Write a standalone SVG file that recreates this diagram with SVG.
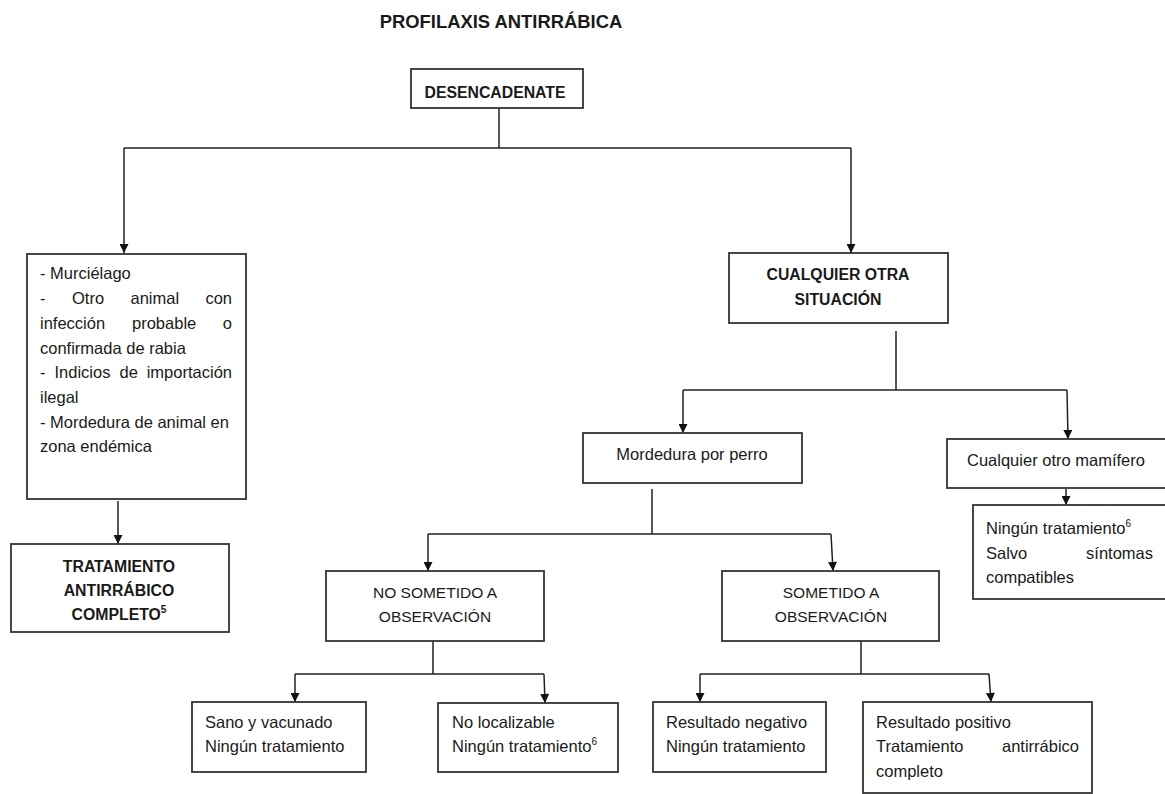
<svg xmlns="http://www.w3.org/2000/svg" width="1165" height="794" viewBox="0 0 1165 794">
<style>
  .box { fill: #ffffff; stroke: #333333; stroke-width: 1.8; }
  .ln { fill: none; stroke: #222222; stroke-width: 1.5; }
  .t { font-family: "Liberation Sans", Arial, sans-serif; font-size: 16.5px; fill: #1a1a1a; }
  .u { font-family: "Liberation Sans", Arial, sans-serif; font-size: 15.5px; fill: #1a1a1a; }
  .b { font-family: "Liberation Sans", Arial, sans-serif; font-size: 15.8px; font-weight: bold; fill: #1a1a1a; }
  .title { font-family: "Liberation Sans", Arial, sans-serif; font-size: 18.4px; font-weight: bold; fill: #1a1a1a; }
  .sup { font-size: 10px; }
  .m { text-anchor: middle; }
  .e { text-anchor: end; }
</style>
<defs>
  <marker id="arr" viewBox="0 0 10 10" refX="10" refY="5" markerWidth="10" markerHeight="9" markerUnits="userSpaceOnUse" orient="auto">
    <path d="M0,0 L10,5 L0,10 z" fill="#111111"/>
  </marker>
</defs>
<rect width="1165" height="794" fill="#ffffff"/>

<text class="title m" x="501" y="28">PROFILAXIS ANTIRRÁBICA</text>

<g id="connectors">
  <path class="ln" d="M499,108 V148 M124,148 H851"/>
  <path class="ln" d="M124,148 V253" marker-end="url(#arr)"/>
  <path class="ln" d="M851,148 V253" marker-end="url(#arr)"/>
  <path class="ln" d="M118,501 V544" marker-end="url(#arr)"/>
  <path class="ln" d="M896,331 V390 M683,390 H1067"/>
  <path class="ln" d="M683,390 V433" marker-end="url(#arr)"/>
  <path class="ln" d="M1067,390 L1068,439" marker-end="url(#arr)"/>
  <path class="ln" d="M1066,489 V505" marker-end="url(#arr)"/>
  <path class="ln" d="M652,489 V534 M428,534 H831"/>
  <path class="ln" d="M428,534 V571" marker-end="url(#arr)"/>
  <path class="ln" d="M831,534 L833,571" marker-end="url(#arr)"/>
  <path class="ln" d="M433,641 V674 M295,674 H544"/>
  <path class="ln" d="M295,674 V702" marker-end="url(#arr)"/>
  <path class="ln" d="M544,674 L545,703" marker-end="url(#arr)"/>
  <path class="ln" d="M861,641 V674 M700,674 H989"/>
  <path class="ln" d="M700,674 V702" marker-end="url(#arr)"/>
  <path class="ln" d="M989,674 L991,702" marker-end="url(#arr)"/>
</g>

<g id="desencadenante">
  <rect class="box" x="411" y="69" width="172" height="39"/>
  <text class="b m" x="495" y="98">DESENCADENATE</text>
</g>

<g id="murcielago">
  <rect class="box" x="27" y="254" width="219" height="245"/>
  <text class="t" x="40" y="279">- Murciélago</text>
  <text class="t" y="304"><tspan x="40">-</tspan><tspan x="72">Otro</tspan><tspan x="130.5">animal</tspan><tspan x="232" text-anchor="end">con</tspan></text>
  <text class="t" y="329"><tspan x="40">infección</tspan><tspan x="132">probable</tspan><tspan x="232" text-anchor="end">o</tspan></text>
  <text class="t" x="40" y="354">confirmada de rabia</text>
  <text class="t" y="378"><tspan x="40">-</tspan><tspan x="54.5">Indicios</tspan><tspan x="119.5">de</tspan><tspan x="232" text-anchor="end">importación</tspan></text>
  <text class="t" x="40" y="403">ilegal</text>
  <text class="t" x="40" y="428">- Mordedura de animal en</text>
  <text class="t" x="40" y="452">zona endémica</text>
</g>

<g id="tratamiento">
  <rect class="box" x="11" y="544" width="218" height="88"/>
  <text class="b m" x="119" y="572">TRATAMIENTO</text>
  <text class="b m" x="119" y="596">ANTIRRÁBICO</text>
  <text class="b m" x="119" y="620">COMPLETO<tspan class="sup" dy="-7">5</tspan></text>
</g>

<g id="otra-situacion">
  <rect class="box" x="729" y="253" width="219" height="70"/>
  <text class="b m" x="838" y="280">CUALQUIER OTRA</text>
  <text class="b m" x="838" y="305">SITUACIÓN</text>
</g>

<g id="mordedura-perro">
  <rect class="box" x="583" y="433" width="219" height="50"/>
  <text class="t m" x="692" y="460">Mordedura por perro</text>
</g>

<g id="otro-mamifero">
  <rect class="box" x="947" y="439" width="230" height="49"/>
  <text class="t" x="967" y="466">Cualquier otro mamífero</text>
</g>

<g id="ningun-tratamiento-sintomas">
  <rect class="box" x="973" y="505" width="210" height="94"/>
  <text class="t" x="986" y="534">Ningún tratamiento<tspan class="sup" dy="-7">6</tspan></text>
  <text class="t" y="559"><tspan x="986">Salvo</tspan><tspan x="1153" text-anchor="end">síntomas</tspan></text>
  <text class="t" x="986" y="583">compatibles</text>
</g>

<g id="no-sometido">
  <rect class="box" x="326" y="571" width="218" height="70"/>
  <text class="u m" x="435" y="598">NO SOMETIDO A</text>
  <text class="u m" x="435" y="622">OBSERVACIÓN</text>
</g>

<g id="sometido">
  <rect class="box" x="722" y="571" width="217" height="70"/>
  <text class="u m" x="831" y="598">SOMETIDO A</text>
  <text class="u m" x="831" y="622">OBSERVACIÓN</text>
</g>

<g id="sano-vacunado">
  <rect class="box" x="192" y="702" width="174" height="70"/>
  <text class="t" x="205" y="728">Sano y vacunado</text>
  <text class="t" x="205" y="752">Ningún tratamiento</text>
</g>

<g id="no-localizable">
  <rect class="box" x="438" y="703" width="180" height="69"/>
  <text class="t" x="452" y="728">No localizable</text>
  <text class="t" x="452" y="752">Ningún tratamiento<tspan class="sup" dy="-7">6</tspan></text>
</g>

<g id="resultado-negativo">
  <rect class="box" x="653" y="702" width="173" height="70"/>
  <text class="t" x="666" y="728">Resultado negativo</text>
  <text class="t" x="666" y="752">Ningún tratamiento</text>
</g>

<g id="resultado-positivo">
  <rect class="box" x="863" y="702" width="229" height="91"/>
  <text class="t" x="876" y="728">Resultado positivo</text>
  <text class="t" y="752"><tspan x="876">Tratamiento</tspan><tspan x="1079" text-anchor="end">antirrábico</tspan></text>
  <text class="t" x="876" y="777">completo</text>
</g>
</svg>
